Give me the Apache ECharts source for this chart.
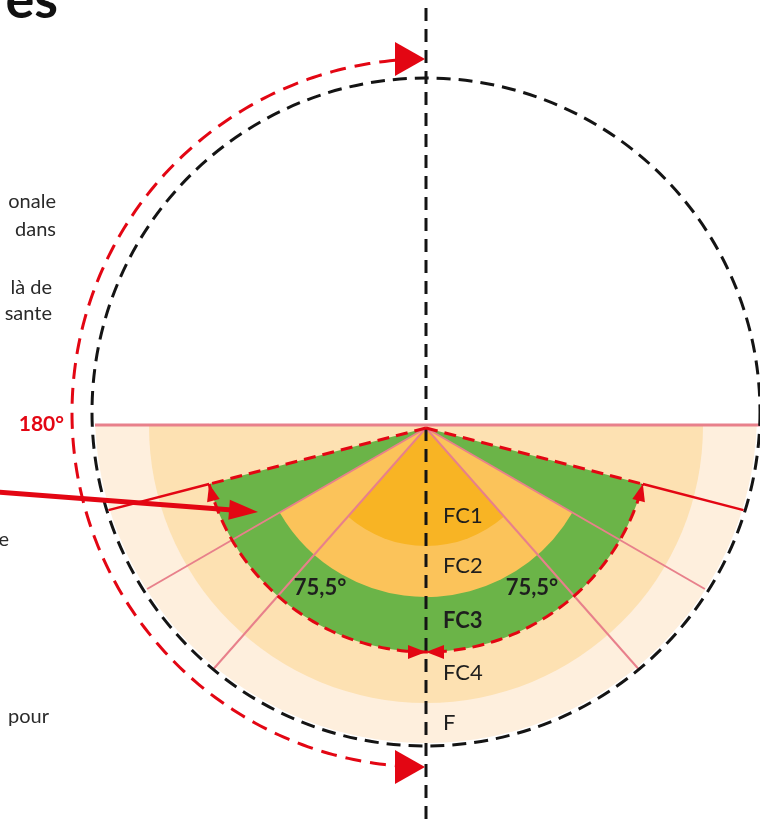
<!DOCTYPE html>
<html><head><meta charset="utf-8">
<script src="https://cdn.jsdelivr.net/npm/echarts@6/dist/echarts.min.js"></script>
<style>html,body{margin:0;padding:0;background:#fff;overflow:hidden}#c{width:760px;height:819px}</style>
</head><body><div id="c"></div>
<script>
// ---------- data ----------
const zoneNames      = ['FC1', 'FC2', 'FC3', 'FC4', 'F'];
const zoneRadii      = [118, 169, 224, 277, 331];   // outer radius of each zone (diagram units)
const zoneHalfAngles = [41.4, 60, 75.5, 90, 90];     // half opening angle (deg from vertical)
const zoneLabelRadii = [88, 138, 193, 245, 295];
const dividerAngles  = [41.4, 60];                   // pink radial lines (both sides)
const dividerLength  = [322];
const sectorAngle    = [75.5];
const angleLabels    = ['75,5°', '75,5°'];
const rotationLabel  = ['180°'];
const outerCircle    = [0, 16, 334];                 // cx, cy, r (diagram units)
const rotationArc    = [0, 15, 354, -175, -5];       // cx, cy, r, from, to (deg from downward vertical)
const pointerArrow   = [[-430, -64], [-168, -84]];   // from, tip
const sideTexts      = ['onale', 'dans', 'là de', 'sante', 'e', 'pour'];
const titleText      = ['es'];

// ---------- style ----------
const C = {
  F: '#FEEFDD', FC4: '#FDE1B2', FC3: '#6BB448', FC2: '#FBC35A', FC1: '#F8B424',
  red: '#E30613', pink: '#E8808B', black: '#141414', text: '#1e1e1e'
};
const FONT = 'Lato, "Open Sans", sans-serif';
const D2R = Math.PI / 180;

function renderItem(params, api) {
  const P = (r, deg, cx = 0, cy = 0) =>
    api.coord([cx + r * Math.sin(deg * D2R), cy - r * Math.cos(deg * D2R)]);
  const px = (v) => api.size([v, v])[0];
  const O = api.coord([0, 0]);
  const kids = [];

  const arcPts = (r, a0, a1, cx, cy, n) => {
    const pts = [];
    for (let i = 0; i <= n; i++) pts.push(P(r, a0 + (a1 - a0) * i / n, cx, cy));
    return pts;
  };
  const tri = (tip, dir, L, w) => {   // tip & dir in data units
    const len = Math.hypot(dir[0], dir[1]);
    const d = [dir[0] / len, dir[1] / len], n = [-d[1], d[0]];
    const b = [tip[0] - L * d[0], tip[1] - L * d[1]];
    return {
      type: 'polygon',
      shape: { points: [api.coord(tip), api.coord([b[0] + w * n[0], b[1] + w * n[1]]), api.coord([b[0] - w * n[0], b[1] - w * n[1]])] },
      style: { fill: C.red }
    };
  };
  const chordY = 3;

  // F zone: part of the outer circle below the chord
  const rF = zoneRadii[4];
  const lim = Math.acos((outerCircle[1] - chordY) / rF) / D2R;
  kids.push({ type: 'polygon', shape: { points: arcPts(rF, -lim, lim, outerCircle[0], outerCircle[1], 160) }, style: { fill: C.F } });

  // FC4 .. FC1 sectors from the apex
  const sectorEl = (i, cyData) => {
    const c = api.coord([0, cyData]);
    const a = zoneHalfAngles[i] * D2R;
    return { type: 'sector', shape: { cx: c[0], cy: c[1], r0: 0, r: px(zoneRadii[i]), startAngle: Math.PI / 2 - a, endAngle: Math.PI / 2 + a, clockwise: true }, style: { fill: C[zoneNames[i]] } };
  };
  kids.push(sectorEl(3, 2));
  kids.push(sectorEl(2, 0));
  kids.push(sectorEl(1, 0));
  kids.push(sectorEl(0, 0));

  // pink divider lines
  dividerAngles.forEach(a => {
    [-a, a].forEach(s => {
      const e = P(dividerLength[0], s);
      kids.push({ type: 'line', shape: { x1: O[0], y1: O[1], x2: e[0], y2: e[1] }, style: { stroke: C.pink, lineWidth: 2 } });
    });
  });
  // pink chord (180° line)
  const c1 = api.coord([-rF, chordY]), c2 = api.coord([400, chordY]);
  kids.push({ type: 'line', shape: { x1: c1[0], y1: c1[1], x2: c2[0], y2: c2[1] }, style: { stroke: C.pink, lineWidth: 3 } });

  // black dashed circle
  const oc = api.coord([outerCircle[0], outerCircle[1]]);
  kids.push({ type: 'circle', shape: { cx: oc[0], cy: oc[1], r: px(outerCircle[2]) }, style: { fill: null, stroke: C.black, lineWidth: 3, lineDash: [14, 8] } });

  // vertical dashed axis
  const v1 = api.coord([0, 428]), v2 = api.coord([0, -391]);
  kids.push({ type: 'line', shape: { x1: v1[0], y1: v1[1] + 8, x2: v2[0], y2: v2[1] }, style: { stroke: C.black, lineWidth: 3, lineDash: [13, 8] } });

  // red FC3 sector outline (dashed)
  const sa = sectorAngle[0], rs = zoneRadii[2];
  kids.push({ type: 'polyline', shape: { points: arcPts(rs, -sa, sa, 0, 0, 120) }, style: { stroke: C.red, lineWidth: 3, lineDash: [12, 7], fill: null } });
  [-sa, sa].forEach(s => {
    const e = P(rs, s), f = P(328, s);
    kids.push({ type: 'line', shape: { x1: O[0], y1: O[1], x2: e[0], y2: e[1] }, style: { stroke: C.red, lineWidth: 3, lineDash: [12, 7] } });
    kids.push({ type: 'line', shape: { x1: e[0], y1: e[1], x2: f[0], y2: f[1] }, style: { stroke: C.red, lineWidth: 2.5 } });
    const sign = s > 0 ? 1 : -1;
    const tip = [rs * Math.sin(s * D2R), -rs * Math.cos(s * D2R)];
    const dir = [sign * Math.cos(s * D2R), sign * Math.sin(s * D2R)];
    kids.push(tri(tip, dir, 17, 6.5));
  });
  kids.push(tri([0, -rs], [1, 0], 18, 7));
  kids.push(tri([0, -rs], [-1, 0], 18, 7));

  // big red rotation arc with arrows
  const [rcx, rcy, rr, ra0, ra1] = rotationArc;
  kids.push({ type: 'polyline', shape: { points: arcPts(rr, ra0, ra1, rcx, rcy, 200) }, style: { stroke: C.red, lineWidth: 3, lineDash: [16, 9], fill: null } });
  kids.push(tri([-1, rcy + rr], [1, 0], 30, 17));
  kids.push(tri([-1, rcy - rr], [1, 0], 30, 17));

  // thick pointer arrow
  const [pa, pb] = pointerArrow;
  const pdir = [pb[0] - pa[0], pb[1] - pa[1]];
  const pl = Math.hypot(pdir[0], pdir[1]);
  const shaftEnd = [pb[0] - 26 * pdir[0] / pl, pb[1] - 26 * pdir[1] / pl];
  const s1 = api.coord(pa), s2 = api.coord(shaftEnd);
  kids.push({ type: 'line', shape: { x1: s1[0], y1: s1[1], x2: s2[0], y2: s2[1] }, style: { stroke: C.red, lineWidth: 5 } });
  kids.push(tri(pb, pdir, 29, 10));

  // zone labels
  zoneNames.forEach((n, i) => {
    const p = api.coord([17, -zoneLabelRadii[i]]);
    kids.push({ type: 'text', x: p[0], y: p[1], style: { text: n, font: (n === 'FC3' ? 'bold ' : '') + '22px ' + FONT, fill: C.text, align: 'left', verticalAlign: 'middle' } });
  });
  // angle labels
  angleLabels.forEach((t, i) => {
    const p = P(192, i === 0 ? -33.5 : 33.5);
    kids.push({ type: 'text', x: p[0], y: p[1], style: { text: t, font: 'bold 22px ' + FONT, fill: C.text, align: 'center', verticalAlign: 'middle' } });
  });
  // 180° label
  const lp = api.coord([rcx - rr - 8, chordY + 1]);
  kids.push({ type: 'text', x: lp[0], y: lp[1], style: { text: rotationLabel[0], font: 'bold 21px ' + FONT, fill: C.red, align: 'right', verticalAlign: 'middle' } });

  return { type: 'group', children: kids };
}

const textStyle = { font: '20px ' + FONT, fill: '#2a2a2a', align: 'right', verticalAlign: 'middle' };
const sidePos = [[56, 202], [56, 230], [52, 288], [52, 314], [9, 540], [49, 717]];

const chart = echarts.init(document.getElementById('c'), null, { renderer: 'canvas' });
chart.setOption({
  animation: false,
  backgroundColor: '#fff',
  grid: { left: 0, right: 0, top: 0, bottom: 0 },
  xAxis: { type: 'value', min: -426, max: 334, show: false },
  yAxis: { type: 'value', min: -391, max: 428, show: false },
  graphic: sideTexts.map((t, i) => ({
    type: 'text', x: sidePos[i][0], y: sidePos[i][1], style: Object.assign({ text: t }, textStyle)
  })).concat([{
    type: 'text', x: 58, y: 1, style: { text: titleText[0], font: 'bold 54px ' + FONT, fill: '#111', align: 'right', verticalAlign: 'middle' }
  }]),
  series: [{
    type: 'custom', silent: true, clip: false,
    data: [[0, 0]],
    renderItem: renderItem
  }]
});
</script></body></html>
